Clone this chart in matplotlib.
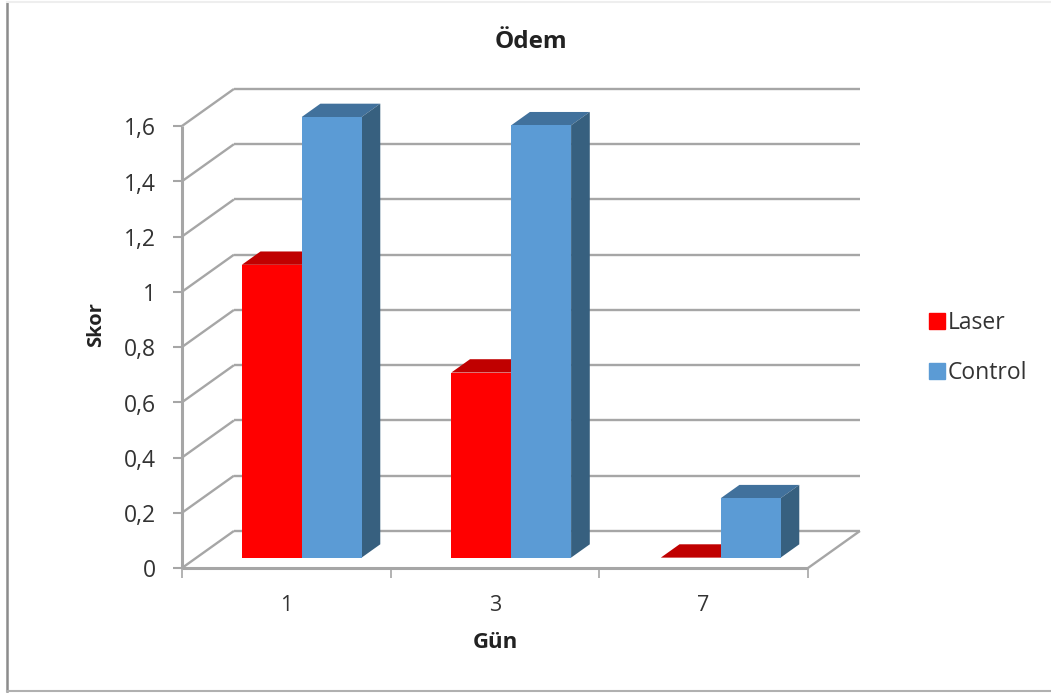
import matplotlib
matplotlib.use('Agg')
import matplotlib.pyplot as plt
from matplotlib.lines import Line2D
from matplotlib.patches import Patch

plt.rcParams['font.family'] = ['Open Sans', 'DejaVu Sans']

days = ['1', '3', '7']
laser = [1.06, 0.67, 0.0]
control = [1.595, 1.565, 0.215]
y_ticks = [0, 0.2, 0.4, 0.6, 0.8, 1.0, 1.2, 1.4, 1.6]
y_labels = ['0', '0,2', '0,4', '0,6', '0,8', '1', '1,2', '1,4', '1,6']

W, H = 1051, 693
GRID = '#a6a6a6'
TXT = '#333333'

# how far one full unit of depth moves a point, in data units
KX = 52 / 209.0
KY = 37 / 276.0
D0, D1 = 0.28, 0.64
BAR_W = 0.287


def proj(x, y, d):
    return x + KX * d, y + KY * d


fig = plt.figure(figsize=(W / 100, H / 100), dpi=100)
ax = fig.add_axes([182 / W, 1 - 568 / H, (808 - 182) / W, (568 - 126) / H])
ax.set_xlim(0, 3)
ax.set_ylim(0, 1.6)
ax.patch.set_visible(False)
for s in ax.spines.values():
    s.set_visible(False)


def line3d(p, q, lw=1.7):
    ax.plot([p[0], q[0]], [p[1], q[1]], color=GRID, lw=lw, clip_on=False,
            solid_capstyle='butt', zorder=1)


# back wall and side wall grid
for t in y_ticks:
    line3d(proj(0, t, 0), proj(0, t, 1))
    line3d(proj(0, t, 1), proj(3, t, 1))
# floor
line3d(proj(3, 0, 0), proj(3, 0, 1))
line3d((0, 0), (3, 0), lw=2.2)
line3d((0, 0), (0, 1.6), lw=2.2)


def bar3d(x, v, front, top, side, z):
    # front face
    bx, by = proj(x, 0, D0)
    ax.bar(bx, v, BAR_W, bottom=by, align='edge', color=front, zorder=z + 0.2, clip_on=False)
    # top face
    pts = [proj(x, v, D0), proj(x + BAR_W, v, D0), proj(x + BAR_W, v, D1), proj(x, v, D1)]
    ax.fill([p[0] for p in pts], [p[1] for p in pts], color=top, lw=0, zorder=z, clip_on=False)
    # side face
    pts = [proj(x + BAR_W, 0, D0), proj(x + BAR_W, v, D0), proj(x + BAR_W, v, D1), proj(x + BAR_W, 0, D1)]
    ax.fill([p[0] for p in pts], [p[1] for p in pts], color=side, lw=0, zorder=z, clip_on=False)


for i in range(len(days)):
    mid = i + 0.5 + 0.004 + i * 0.004
    bar3d(mid - BAR_W, laser[i], '#ff0000', '#c00000', '#c00000', 2 + i)
    bar3d(mid, control[i], '#5b9bd5', '#41719c', '#37607f', 2.5 + i)

# ticks, the y labels sit a little under their ticks in the original
ax.set_yticks(y_ticks)
ax.set_yticklabels([])
ax.set_xticks(range(4))
ax.set_xticklabels([])
ax.tick_params(axis='y', length=6.5, width=1.5, color=GRID)
ax.tick_params(axis='x', length=7, width=1.2, color=GRID)
for t, lab in zip(y_ticks, y_labels):
    ax.annotate(lab, (0, t), xytext=(-19, -2.5), textcoords='offset points', ha='right', va='center',
                fontsize=16.5, color=TXT)
for i, d in enumerate(days):
    ax.annotate(d, (i + 0.5, 0), xytext=(0, -27), textcoords='offset points', ha='center', va='center',
                fontsize=15.5, color=TXT)

fig.text(531 / W, 1 - 42 / H, 'Ödem', ha='center', va='center', fontsize=17.5, fontweight='bold', color='#222222')
fig.text(96 / W, 1 - 325 / H, 'Skor', rotation=90, ha='center', va='center', fontsize=14.5,
         fontweight='bold', color='#222222')
fig.text(495 / W, 1 - 643 / H, 'Gün', ha='center', va='center', fontsize=16, fontweight='bold', color='#222222')

handles = [Patch(color='#ff0000', label='Laser'), Patch(color='#5b9bd5', label='Control')]
fig.legend(handles=handles, loc='center left', bbox_to_anchor=(920 / W, 1 - 348 / H), frameon=False,
           fontsize=16.5, labelcolor=TXT, handlelength=0.7, handleheight=0.7, handletextpad=0.1,
           labelspacing=1.1, borderpad=0.4, borderaxespad=0)

# outer frame of the screenshot
fig.add_artist(Line2D([7 / W, 7 / W], [1 - 2 / H, 1 - 691 / H], color='#8c8c8c', lw=1.8))
fig.add_artist(Line2D([7 / W, 1], [1 - 691 / H, 1 - 691 / H], color='#b0b0b0', lw=1.5))
fig.add_artist(Line2D([7 / W, 1], [1 - 2 / H, 1 - 2 / H], color='#eeeeee', lw=1.5))

fig.savefig('out.png', dpi=100)
